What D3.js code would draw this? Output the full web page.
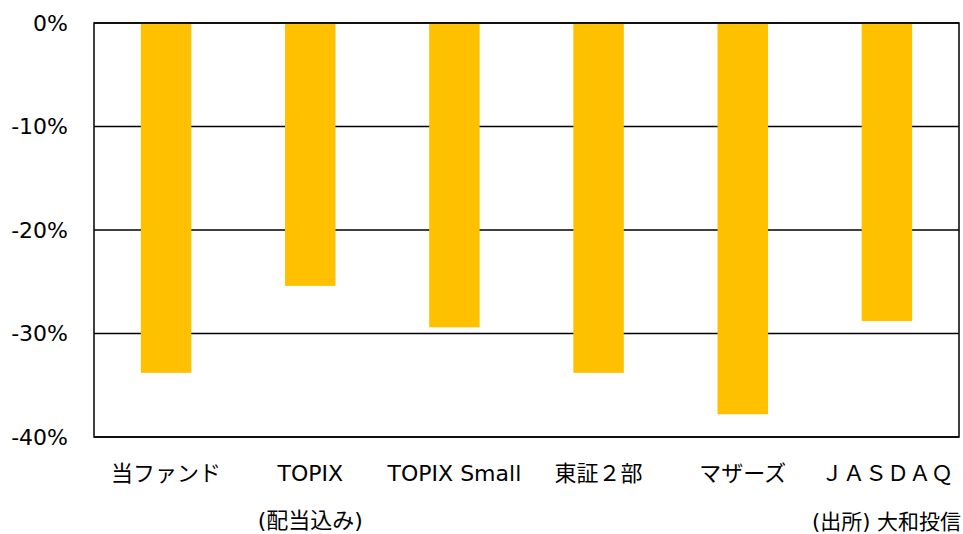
<!DOCTYPE html>
<html>
<head>
<meta charset="utf-8">
<script src="https://cdn.jsdelivr.net/npm/d3@7"></script>
<style>
  body { margin: 0; background: #fff; }
  svg { display: block; font-family: "DejaVu Sans", "Noto Sans CJK JP", sans-serif; }
</style>
</head>
<body>
<svg id="chart"></svg>
<script>
// values (%)
const categories = ["当ファンド", "TOPIX", "TOPIX Small", "東証２部", "マザーズ", "ＪＡＳＤＡＱ"];
const subLabels = ["", "(配当込み)", "", "", "", ""];
const values = [-33.8, -25.4, -29.4, -33.8, -37.8, -28.8];
const yTicks = [0, -10, -20, -30, -40];
const source = "(出所) 大和投信";

const width = 963, height = 534;
const margin = { top: 23, right: 4, bottom: 97, left: 94 };
const innerW = width - margin.left - margin.right;
const innerH = height - margin.top - margin.bottom;

const svg = d3.select("#chart").attr("width", width).attr("height", height);
const g = svg.append("g").attr("transform", `translate(${margin.left},${margin.top})`);

const x = d3.scaleBand().domain(categories).range([0, innerW]).paddingInner(0.65).paddingOuter(0.325);
const y = d3.scaleLinear().domain([-40, 0]).range([innerH, 0]);

// gridlines
g.selectAll("line.grid")
  .data(yTicks)
  .join("line")
  .attr("class", "grid")
  .attr("x1", 0).attr("x2", innerW)
  .attr("y1", d => y(d)).attr("y2", d => y(d))
  .attr("stroke", "#000").attr("stroke-width", 1.5);

// frame
g.append("rect")
  .attr("x", 0).attr("y", 0)
  .attr("width", innerW).attr("height", innerH)
  .attr("fill", "none").attr("stroke", "#000").attr("stroke-width", 1.5);

// bars
g.selectAll("rect.bar")
  .data(values)
  .join("rect")
  .attr("class", "bar")
  .attr("x", (d, i) => x(categories[i]))
  .attr("y", y(0) + 1)
  .attr("width", x.bandwidth())
  .attr("height", d => y(d) - y(0) - 1)
  .attr("fill", "#ffc000");

// y axis labels
g.selectAll("text.ytick")
  .data(yTicks)
  .join("text")
  .attr("class", "ytick")
  .attr("x", -26)
  .attr("y", d => y(d))
  .attr("dy", "0.35em")
  .attr("text-anchor", "end")
  .attr("font-size", 22)
  .text(d => d + "%");

// category labels
g.selectAll("text.xcat")
  .data(categories)
  .join("text")
  .attr("class", "xcat")
  .attr("x", d => x(d) + x.bandwidth() / 2)
  .attr("y", innerH + 36)
  .attr("dy", "0.35em")
  .attr("text-anchor", "middle")
  .attr("font-size", 22)
  .text(d => d);

g.selectAll("text.xsub")
  .data(subLabels)
  .join("text")
  .attr("class", "xsub")
  .attr("x", (d, i) => x(categories[i]) + x.bandwidth() / 2)
  .attr("y", innerH + 83)
  .attr("dy", "0.35em")
  .attr("text-anchor", "middle")
  .attr("font-size", 22)
  .text(d => d);

svg.append("text")
  .attr("x", 961)
  .attr("y", 522)
  .attr("dy", "0.35em")
  .attr("text-anchor", "end")
  .attr("font-size", 21)
  .text(source);
</script>
</body>
</html>
